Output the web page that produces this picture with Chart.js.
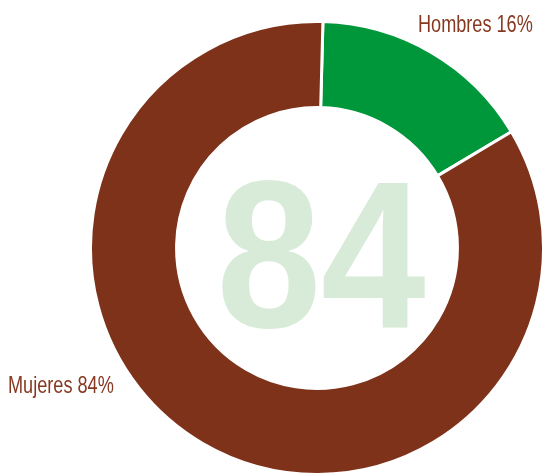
<!DOCTYPE html>
<html>
<head>
<meta charset="utf-8">
<script src="https://cdn.jsdelivr.net/npm/chart.js@4"></script>
<style>
  html, body { margin: 0; padding: 0; background: #ffffff; overflow: hidden; font-family: "Liberation Sans", Arial, sans-serif; }
  #wrap { position: relative; width: 546px; height: 476px; }
</style>
</head>
<body>
<div id="wrap"><canvas id="c" width="546" height="476"></canvas></div>
<script>
const categories = ['Hombres', 'Mujeres'];
const values = [16, 84];
const colors = ['#00963a', '#7e3219'];
const centerValue = values[1];

function drawScaled(ctx, text, x, y, sx) {
  ctx.save();
  ctx.translate(x, y);
  ctx.scale(sx, 1);
  ctx.fillText(text, 0, 0);
  ctx.restore();
}

const labelPlugin = {
  id: 'labelPlugin',
  afterDraw(chart) {
    const ctx = chart.ctx;
    ctx.save();
    ctx.fillStyle = '#d8ebd8';
    ctx.font = 'bold 209px "Liberation Sans", Arial, sans-serif';
    ctx.textAlign = 'center';
    ctx.textBaseline = 'alphabetic';
    drawScaled(ctx, String(centerValue), 321, 327, 0.9);
    ctx.fillStyle = '#863820';
    ctx.strokeStyle = '#863820';
    ctx.font = '24px "Liberation Sans", Arial, sans-serif';
    ctx.textAlign = 'left';
    drawScaled(ctx, categories[0] + ' ' + values[0] + '%', 418, 32, 0.755);
    drawScaled(ctx, categories[1] + ' ' + values[1] + '%', 8, 393, 0.755);
    ctx.restore();
  }
};

function build() {
  new Chart(document.getElementById('c'), {
    type: 'doughnut',
    data: {
      labels: categories,
      datasets: [{
        data: values,
        backgroundColor: colors,
        borderColor: '#ffffff',
        borderWidth: 3,
        hoverOffset: 0
      }]
    },
    options: {
      responsive: false,
      animation: false,
      cutout: '62%',
      rotation: 1.5,
      layout: { padding: { left: 88, top: 20, right: 0, bottom: -2 } },
      plugins: { legend: { display: false }, tooltip: { enabled: false } }
    },
    plugins: [labelPlugin]
  });
}

Promise.all([
  document.fonts.load('bold 209px "Liberation Sans"'),
  document.fonts.load('24px "Liberation Sans"')
]).then(build, build);
</script>
</body>
</html>
